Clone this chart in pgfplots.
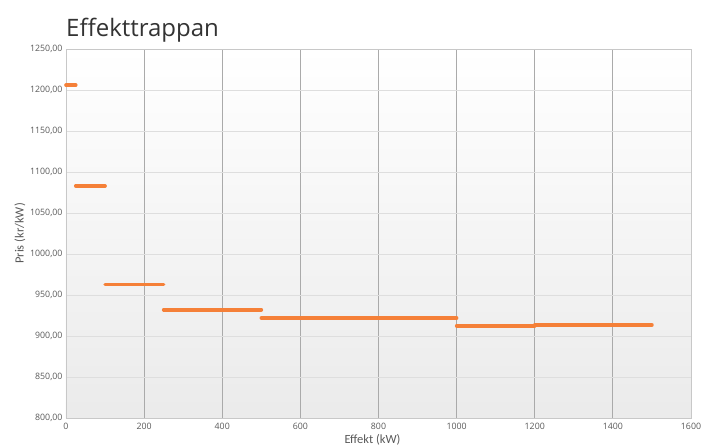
\documentclass[border=0pt]{standalone}
\usepackage{pgfplots}
\pgfplotsset{compat=1.18}
\usepackage{fontspec}
\setmainfont{Open Sans}
\newfontfamily\labfont{Carlito}
\usetikzlibrary{calc}
\definecolor{stepor}{RGB}{245,128,56}
\definecolor{ticktxt}{RGB}{89,89,89}
\definecolor{vgrid}{RGB}{170,170,170}
\definecolor{hgrid}{RGB}{222,222,222}
\definecolor{frame}{RGB}{200,200,200}
\begin{document}
\begin{tikzpicture}
\begin{axis}[
    scale only axis,
    width=625pt, height=369pt,
    xmin=0, xmax=1600, ymin=800, ymax=1250,
    xtick={0,200,...,1600},
    ytick={800,850,...,1250},
    major tick length=0pt,
    xmajorgrids, ymajorgrids,
    x grid style={vgrid, line width=0.8pt},
    y grid style={hgrid, line width=0.8pt},
    axis line style={frame, line width=0.8pt},
    axis background/.style={top color=white, bottom color=black!8, middle color=white!96!black},
    ticklabel style={font=\fontsize{8.8}{10}\selectfont, text=ticktxt},
    /pgf/number format/assume math mode=true,
    yticklabel style={/pgf/number format/.cd, fixed, fixed zerofill, precision=2, use comma, 1000 sep={}},
    xticklabel style={yshift=-2pt, /pgf/number format/.cd, fixed, 1000 sep={}},
    xlabel={Effekt (kW)},
    ylabel={Pris (kr/kW)},
    label style={font=\labfont\fontsize{12.5}{14}\selectfont, text=ticktxt},
    xlabel style={yshift=3pt, xshift=-6pt},
    ylabel style={yshift=-2pt},
    clip=false,
    step/.style={stepor, line width=3.6pt, line cap=round, mark=none},
]
\addplot[step] coordinates {(0,1206) (25,1206)};
\addplot[step] coordinates {(25,1083) (100,1083)};
\addplot[step] coordinates {(100,963) (250,963)};
\addplot[step] coordinates {(250,932) (500,932)};
\addplot[step] coordinates {(500,922) (1000,922)};
\addplot[step] coordinates {(1000,912.5) (1200,912.5)};
\addplot[step] coordinates {(1200,913.5) (1500,913.5)};
\node[anchor=base west, font=\fontsize{24}{28}\selectfont, text=black!80, inner sep=0pt]
    at ([yshift=12pt]rel axis cs:0,1) {Effekttrappan};
\end{axis}
\pgfresetboundingbox
\useasboundingbox ($(current axis.south west)+(-66pt,-28pt)$) rectangle ($(current axis.north east)+(10pt,49pt)$);
\end{tikzpicture}
\end{document}
